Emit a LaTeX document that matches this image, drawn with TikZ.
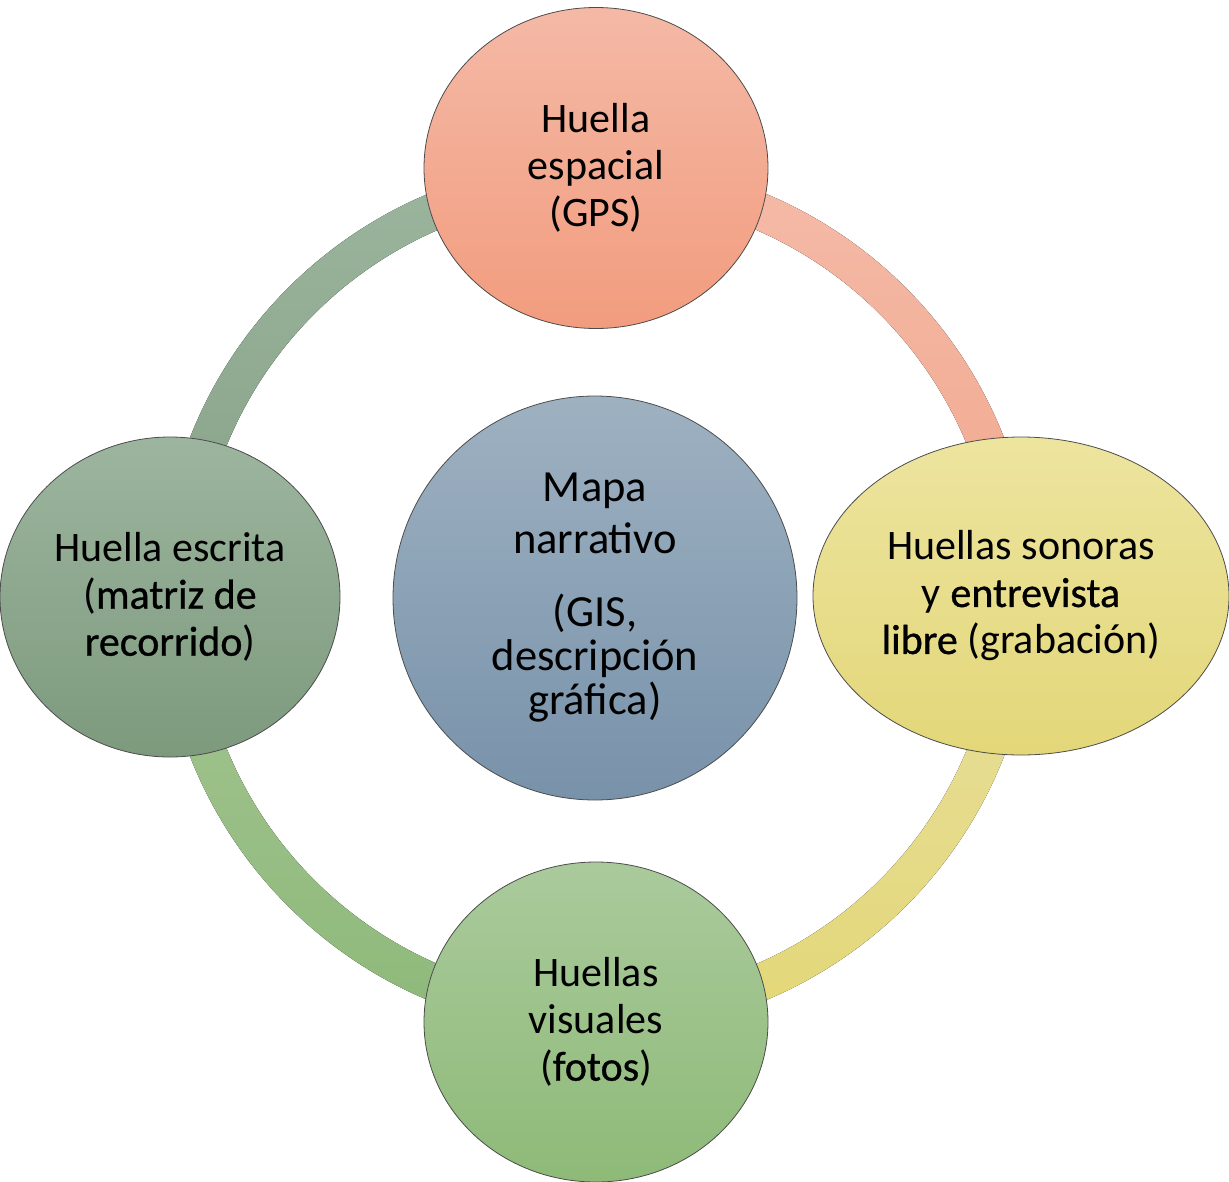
\documentclass[tikz,border=0pt]{standalone}
\usepackage{fontspec}
\setmainfont{Carlito}
\newfontfamily\emfont[FakeBold=0.8]{Carlito}
\usetikzlibrary{shapes.geometric}
\definecolor{salT}{HTML}{F4B9A6}
\definecolor{salB}{HTML}{F29C7E}
\definecolor{yelT}{HTML}{EDE49F}
\definecolor{yelB}{HTML}{E3D779}
\definecolor{sgT}{HTML}{9DB59F}
\definecolor{sgB}{HTML}{7D9A7D}
\definecolor{grT}{HTML}{AACA9C}
\definecolor{grB}{HTML}{8EBA78}
\definecolor{blT}{HTML}{9EB1C1}
\definecolor{blB}{HTML}{7892AA}
\definecolor{rsalT}{HTML}{F4BBA8}
\definecolor{rsalB}{HTML}{F2A68C}
\definecolor{ryelT}{HTML}{E8DF9E}
\definecolor{ryelB}{HTML}{E3D777}
\definecolor{rsgT}{HTML}{9CB59E}
\definecolor{rsgB}{HTML}{86A186}
\definecolor{rgrT}{HTML}{A3C491}
\definecolor{rgrB}{HTML}{8EB97A}
\begin{document}
\begin{tikzpicture}[x=1pt,y=1pt,
  bub/.style={ellipse, draw=black!70, line width=0.8pt, inner sep=0pt, align=center,
    text=black, font=\fontsize{42}{47}\selectfont},
  ringseg/.style={draw=none}]
\useasboundingbox (0,0) rectangle (1229,-1181);
\coordinate (c) at (597,-597);
% ring segments
\fill[ringseg, top color=rsalT, bottom color=rsalB, shift={(c)}]
  (0:437) arc[start angle=0,end angle=90,radius=437] -- (90:400)
  arc[start angle=90,end angle=0,radius=400] -- cycle;
\fill[ringseg, top color=rsgT, bottom color=rsgB, shift={(c)}]
  (90:437) arc[start angle=90,end angle=180,radius=437] -- (180:400)
  arc[start angle=180,end angle=90,radius=400] -- cycle;
\fill[ringseg, top color=rgrT, bottom color=rgrB, shift={(c)}]
  (180:437) arc[start angle=180,end angle=270,radius=437] -- (270:400)
  arc[start angle=270,end angle=180,radius=400] -- cycle;
\fill[ringseg, top color=ryelT, bottom color=ryelB, shift={(c)}]
  (270:437) arc[start angle=270,end angle=360,radius=437] -- (0:400)
  arc[start angle=360,end angle=270,radius=400] -- cycle;
% nodes
\node[bub, minimum width=344pt, minimum height=321pt, top color=salT, bottom color=salB]
  (gps) at (596,-168) {Huella\\espacial\\(GPS)};
\node[bub, minimum width=416pt, minimum height=318pt, top color=yelT, bottom color=yelB]
  (son) at (1021,-596) {Huellas sonoras\\y {\emfont entrevista}\\{\emfont libre} (grabación)};
\node[bub, minimum width=340pt, minimum height=320pt, top color=sgT, bottom color=sgB]
  (esc) at (170,-597) {Huella escrita\\({\emfont matriz de}\\{\emfont recorrido})};
\node[bub, minimum width=344pt, minimum height=320pt, top color=grT, bottom color=grB]
  (vis) at (596,-1022) {Huellas\\visuales\\({\emfont fotos})};
\node[bub, minimum width=404pt, minimum height=404pt, top color=blT, bottom color=blB,
  font=\fontsize{44.5}{47}\selectfont]
  (map) at (595,-598) {Mapa\\[5pt]narrativo\\[26pt](GIS,\\[-3pt]descripción\\[-3pt]gráfica)};
\end{tikzpicture}
\end{document}
